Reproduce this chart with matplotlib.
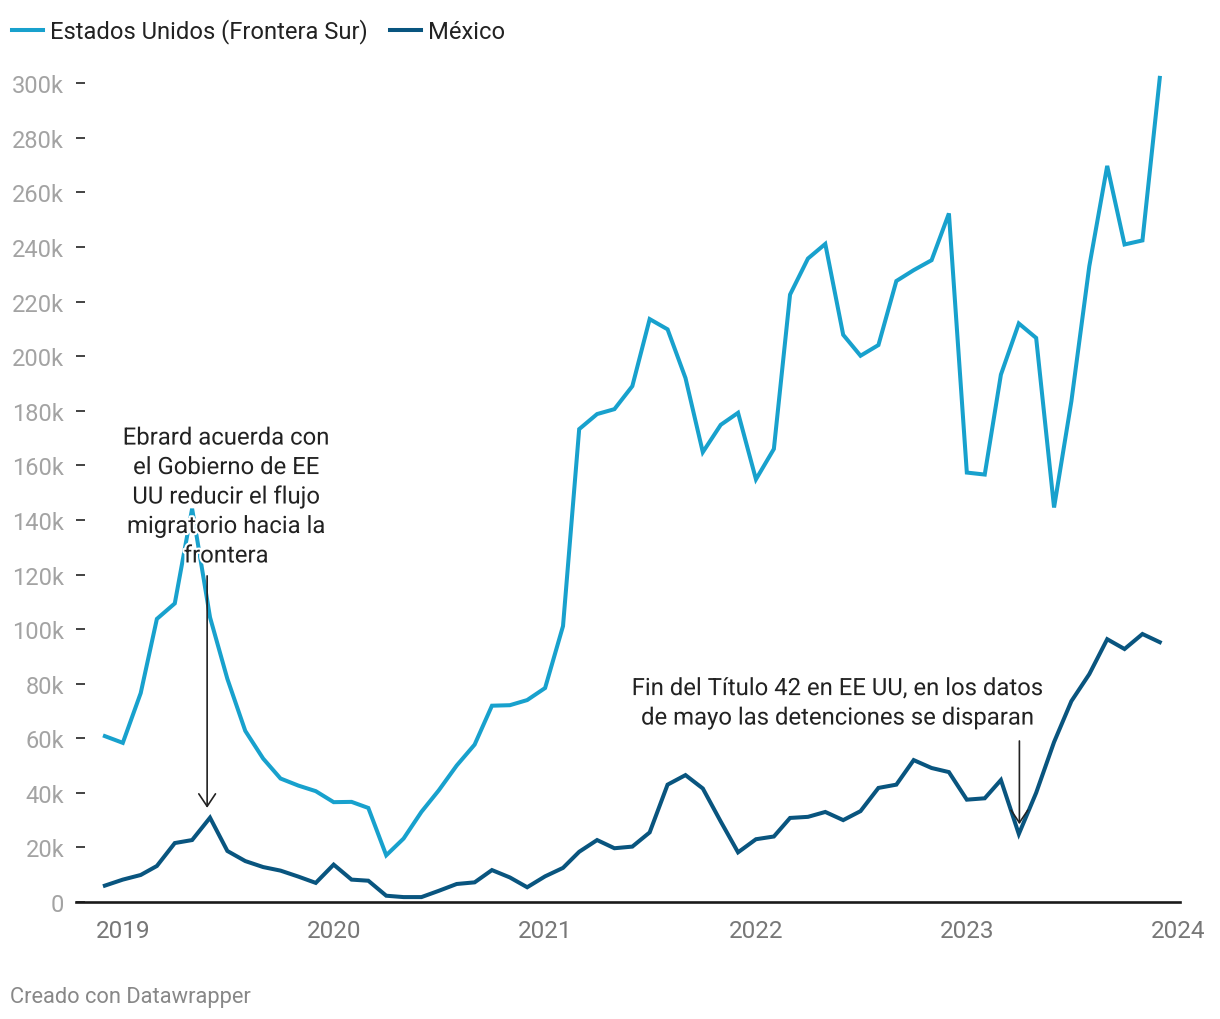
import matplotlib
matplotlib.use("Agg")
import matplotlib.pyplot as plt
import matplotlib.patheffects as pe
import pandas as pd

plt.rcParams['font.family'] = ['Roboto', 'DejaVu Sans']

# monthly series, Dec 2018 .. Dec 2023
months = pd.date_range('2018-12-01', periods=61, freq='MS')

eeuu = [60782, 58317, 76545, 103731, 109415, 144116, 104311, 81777, 62707, 52546,
        45250, 42649, 40620, 36585, 36687, 34460, 17106, 23237, 33049, 40929,
        50014, 57674, 71929, 72113, 73994, 78414, 101099, 173277, 178795, 180597,
        189034, 213593, 209840, 192001, 164837, 174845, 179253, 154874, 166010, 222574,
        235785, 241136, 207834, 200162, 204087, 227547, 231529, 235173, 252315, 157358,
        156630, 193249, 211992, 206690, 144556, 183503, 232972, 269735, 240936, 242418,
        301983]

mexico = [6000, 8200, 9900, 13200, 21600, 22700, 30900, 18700, 15000, 12800,
          11500, 9300, 7000, 13700, 8200, 7800, 2300, 1800, 1800, 4100,
          6600, 7200, 11700, 9000, 5400, 9400, 12500, 18400, 22700, 19700,
          20300, 25500, 43000, 46500, 41600, 29500, 18200, 23000, 24000, 30800,
          31200, 33000, 30000, 33300, 41800, 43000, 52000, 49100, 47600, 37500,
          38000, 44700, 24900, 40000, 58600, 73600, 83500, 96300, 92700, 98200,
          95200]

series_names = ['Estados Unidos (Frontera Sur)', 'México']
colors = ['#18a1cd', '#09557f']

y_ticks = list(range(0, 300001, 20000))
y_labels = ['0'] + ['%dk' % (v // 1000) for v in y_ticks[1:]]
years = [2019, 2020, 2021, 2022, 2023, 2024]

note1 = "Ebrard acuerda con\nel Gobierno de EE\nUU reducir el flujo\nmigratorio hacia la\nfrontera"
note2 = "Fin del Título 42 en EE UU, en los datos\nde mayo las detenciones se disparan"

W, H = 1220, 1020
fig = plt.figure(figsize=(W / 100, H / 100), dpi=100)
ax = fig.add_axes([76 / W, (H - 903) / H, (1180 - 76) / W, (903 - 57) / H])

l1, = ax.plot(months, eeuu, color=colors[0], lw=2.9, solid_joinstyle='miter', zorder=3)
l2, = ax.plot(months, mexico, color=colors[1], lw=2.9, solid_joinstyle='miter', zorder=3)

ax.set_ylim(0, 310000)
ax.set_xlim(pd.Timestamp('2018-10-12'), pd.Timestamp('2024-01-05'))

ax.set_yticks(y_ticks)
ax.set_yticklabels(y_labels)
ax.set_xticks([pd.Timestamp('%d-01-01' % y) for y in years])
ax.set_xticklabels([str(y) for y in years])

for s in ['top', 'right', 'left']:
    ax.spines[s].set_visible(False)
ax.spines['bottom'].set_linewidth(1.9)
ax.spines['bottom'].set_color('#1a1a1a')
ax.spines['bottom'].set_zorder(4)

ax.tick_params(axis='y', direction='in', length=6.5, width=1.2, color='#222222',
               pad=8.5, labelsize=17, labelcolor='#a3a3a3')
ax.tick_params(axis='x', length=0, pad=12.5, labelsize=17.5, labelcolor='#777777')

halo = [pe.withStroke(linewidth=3, foreground='white')]
arrow_style = dict(arrowstyle='->, head_length=0.45, head_width=0.3', color='#222222',
                   lw=1.2, shrinkA=0, shrinkB=0, mutation_scale=20)

ax.text(pd.Timestamp('2019-06-29'), 148400, note1, ha='center', va='center',
        multialignment='center', fontsize=17.2, color='#222222', linespacing=1.36,
        zorder=5, path_effects=halo)
ax.annotate('', xy=(pd.Timestamp('2019-05-27'), 34500),
            xytext=(pd.Timestamp('2019-05-27'), 119500), arrowprops=arrow_style, zorder=5)

ax.text(pd.Timestamp('2022-05-22'), 72800, note2, ha='center', va='center',
        multialignment='center', fontsize=17.2, color='#222222', linespacing=1.36,
        zorder=5, path_effects=halo)
ax.annotate('', xy=(pd.Timestamp('2023-04-02'), 28500),
            xytext=(pd.Timestamp('2023-04-02'), 59000), arrowprops=arrow_style, zorder=5)

fig.legend([l1, l2], series_names, loc='center left', bbox_to_anchor=(12 / W, 1 - 32 / H),
           ncol=2, frameon=False, fontsize=17.1, handlelength=1.3, handletextpad=0.3,
           columnspacing=0.95, borderaxespad=0, borderpad=0, labelcolor='#222222')

fig.text(10 / W, 1 - 998 / H, 'Creado con Datawrapper', ha='left', va='center',
         fontsize=15.75, color='#888888')

plt.savefig('out.png', dpi=100)
